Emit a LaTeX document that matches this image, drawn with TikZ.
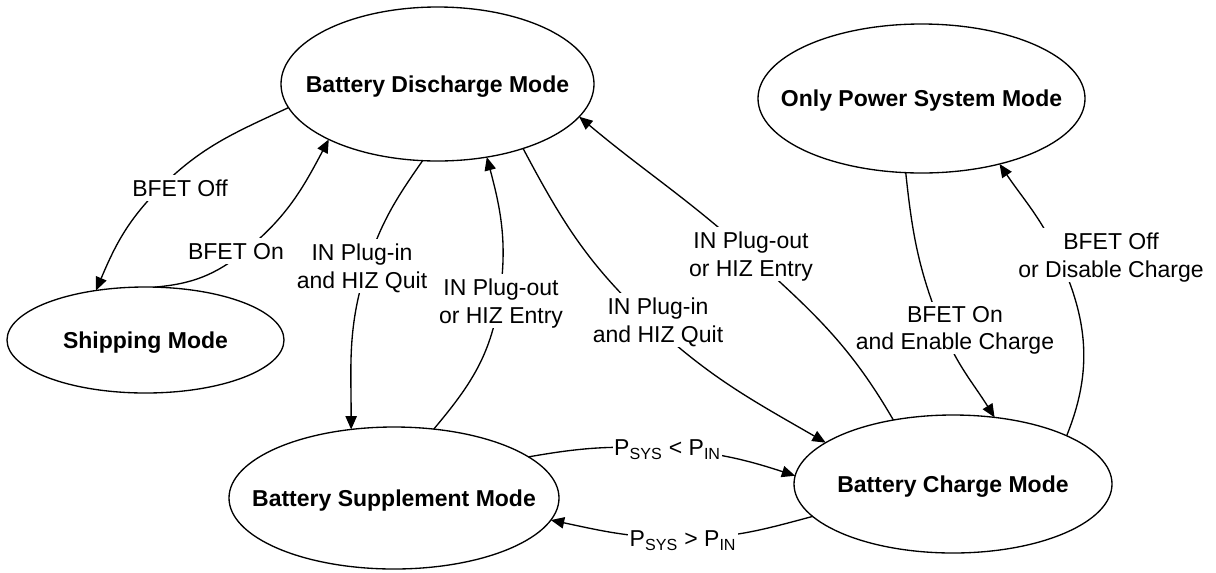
\documentclass[tikz,border=0pt]{standalone}
\usepackage{fontspec}
\setmainfont{Liberation Sans}
\usetikzlibrary{arrows.meta,shapes.geometric}
\begin{document}
\begin{tikzpicture}[x=0.75pt,y=0.75pt,
  font=\fontsize{17.25pt}{20.6pt}\selectfont,
  state/.style={ellipse, draw, line width=1pt, inner sep=0pt, outer sep=0pt,
    text height=12.35pt, text depth=0pt,
    font=\fontsize{17.25pt}{20.6pt}\selectfont\bfseries},
  lbl/.style={fill=white, inner sep=3.5pt, align=center, text depth=0pt},
  plbl/.style={fill=white, inner xsep=1pt, inner ysep=3pt, text depth=0pt},
  tr/.style={line width=1pt, -{Triangle[length=10pt,width=8.5pt]}}
]
\useasboundingbox (0,0) rectangle (1216,-572);

% states
\node[state, minimum width=234.75pt, minimum height=115.5pt] (dis) at (437.5,-84) {\makebox[0pt]{Battery Discharge Mode}};
\node[state, minimum width=245.25pt, minimum height=111.75pt] (ops) at (921.5,-98.5) {\makebox[0pt]{Only Power System Mode}};
\node[state, minimum width=207.75pt, minimum height=79.5pt] (ship) at (145.5,-340) {\makebox[0pt]{Shipping Mode}};
\node[state, minimum width=247.5pt, minimum height=106.5pt] (sup) at (394,-498) {\makebox[0pt]{Battery Supplement Mode}};
\node[state, minimum width=238.5pt, minimum height=103.5pt] (chg) at (953,-484) {\makebox[0pt]{Battery Charge Mode}};

% waypoints of connectors (where they pass the labels)
\coordinate (w1) at (160,-188);
\coordinate (w2) at (245,-251);
\coordinate (w3) at (367,-266);
\coordinate (w4) at (499,-301);
\coordinate (w5) at (649,-321);
\coordinate (w6) at (749,-254);
\coordinate (w7) at (942,-328);
\coordinate (w8) at (1058,-255);
\coordinate (w9) at (667,-449);
\coordinate (w10) at (683,-538);

% connectors
\draw[tr] (dis.189) to[out=205,in=45] (w1) to[out=225,in=67] (ship.135);
\draw[tr] (ship.80) to[out=5,in=219] (w2) to[out=39,in=242] (dis.207);
\draw[tr] (dis.259) to[out=235,in=72] (w3) to[out=252,in=90] (sup.122);
\draw[tr] (sup.60) to[out=50,in=261] (w4) to[out=81,in=-75] (dis.304);
\draw[tr] (dis.323) to[out=-62,in=137] (w5) to[out=-43,in=150] (chg.162);
\draw[tr] (chg.133) to[out=120,in=-42] (w6) to[out=138,in=-40] (dis.347);
\draw[tr] (ops.258) to[out=276,in=112] (w7) to[out=292,in=122] (chg.58);
\draw[tr] (chg.23) to[out=68,in=-65] (w8) to[out=115,in=-56] (ops.320);
\draw[tr] (sup.17) to[out=10,in=176] (w9) to[out=-4,in=162] (chg.177);
\draw[tr] (chg.193) to[out=195,in=0] (w10) to[out=180,in=-12] (sup.352);

% labels
\node[lbl] (t1) at (180,-188) {BFET Off};
\node[lbl] (t2) at (236,-251) {BFET On};
\node[lbl] (t3) at (362,-266) {IN Plug-in\\and HIZ Quit};
\node[lbl] (t4) at (501,-301) {IN Plug-out\\or HIZ Entry};
\node[lbl] (t5) at (658,-320) {IN Plug-in\\and HIZ Quit};
\node[lbl] (t6) at (751,-254) {IN Plug-out\\or HIZ Entry};
\node[lbl] (t7) at (955,-328) {BFET On\\and Enable Charge};
\node[lbl] (t8) at (1111,-255) {BFET Off\\or Disable Charge};
\node[plbl] (t9) at (667.5,-448) {P\textsubscript{SYS} < P\textsubscript{IN}};
\node[plbl] (t10) at (683,-539) {P\textsubscript{SYS} > P\textsubscript{IN}};
\end{tikzpicture}
\end{document}
